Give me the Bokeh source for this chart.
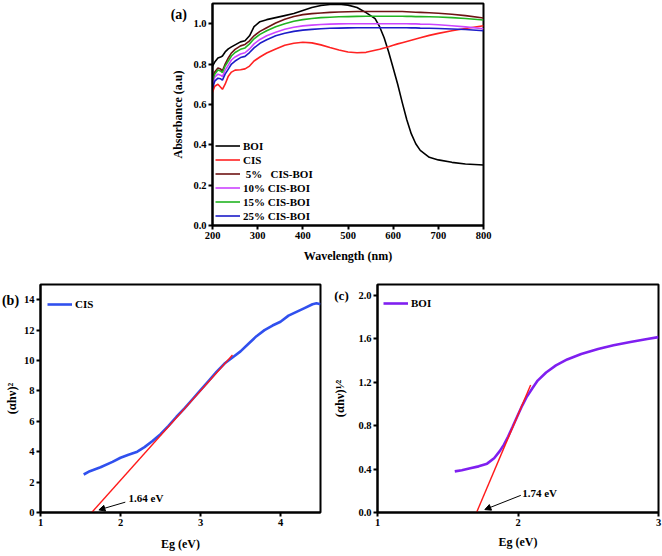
import math
from bokeh.plotting import figure
from bokeh.models import (FixedTicker, PrintfTickFormatter, Legend, LegendItem,
                          Label, Arrow, NormalHead, Spacer, Range1d)
from bokeh.layouts import column, row
from bokeh.embed import file_html
from bokeh.resources import INLINE

FONT = "Liberation Serif"

# ---------------- panel (a) data ----------------
wavelength = [200, 205, 212, 218, 222, 228, 235, 242, 250, 262, 272, 282, 292, 305, 320,
              340, 360, 380, 400, 420, 440, 460, 480, 500, 520, 540, 560, 570, 580, 590,
              600, 610, 620, 630, 640, 650, 660, 680, 700, 730, 760, 800]
abs_boi = [0.79, 0.81, 0.83, 0.835, 0.84, 0.86, 0.875, 0.885, 0.895, 0.91, 0.915, 0.94, 0.985,
           1.01, 1.02, 1.03, 1.04, 1.05, 1.065, 1.08, 1.09, 1.095, 1.096, 1.092, 1.08, 1.055,
           1.025, 0.985, 0.93, 0.86, 0.78, 0.70, 0.61, 0.525, 0.455, 0.405, 0.372, 0.338,
           0.325, 0.313, 0.305, 0.30]
abs_cis = [0.66, 0.69, 0.70, 0.685, 0.675, 0.70, 0.74, 0.76, 0.77, 0.772, 0.776, 0.79, 0.815,
           0.835, 0.855, 0.875, 0.893, 0.903, 0.908, 0.905, 0.895, 0.882, 0.87, 0.86, 0.856,
           0.858, 0.868, 0.873, 0.88, 0.886, 0.893, 0.90, 0.906, 0.912, 0.918, 0.924, 0.93,
           0.942, 0.952, 0.965, 0.976, 0.99]
abs_5 = [0.73, 0.76, 0.78, 0.775, 0.766, 0.80, 0.83, 0.855, 0.873, 0.89, 0.897, 0.915, 0.94,
         0.962, 0.98, 1.003, 1.022, 1.036, 1.045, 1.05, 1.053, 1.056, 1.058, 1.059, 1.06,
         1.06, 1.06, 1.06, 1.06, 1.06, 1.06, 1.06, 1.06, 1.059, 1.058, 1.057, 1.056, 1.054,
         1.052, 1.047, 1.04, 1.028]
abs_10 = [0.70, 0.735, 0.75, 0.745, 0.738, 0.77, 0.795, 0.82, 0.835, 0.85, 0.856, 0.875, 0.90,
          0.922, 0.94, 0.958, 0.972, 0.982, 0.989, 0.993, 0.996, 0.998, 0.999, 1.0, 1.0, 1.0,
          1.0, 1.0, 1.0, 1.0, 1.0, 1.0, 1.0, 1.0, 0.999, 0.999, 0.998, 0.997, 0.995, 0.99,
          0.984, 0.975]
abs_15 = [0.72, 0.75, 0.77, 0.765, 0.758, 0.79, 0.815, 0.84, 0.857, 0.873, 0.88, 0.90, 0.925,
          0.947, 0.965, 0.985, 1.0, 1.012, 1.02, 1.026, 1.03, 1.032, 1.034, 1.035, 1.036,
          1.037, 1.037, 1.037, 1.037, 1.037, 1.037, 1.037, 1.037, 1.036, 1.036, 1.035, 1.035,
          1.034, 1.033, 1.03, 1.026, 1.018]
abs_25 = [0.68, 0.715, 0.73, 0.727, 0.72, 0.75, 0.775, 0.80, 0.815, 0.832, 0.838, 0.857, 0.88,
          0.903, 0.92, 0.94, 0.953, 0.962, 0.968, 0.972, 0.975, 0.977, 0.978, 0.979, 0.98,
          0.98, 0.98, 0.98, 0.98, 0.98, 0.98, 0.98, 0.98, 0.98, 0.979, 0.979, 0.978, 0.977,
          0.976, 0.974, 0.971, 0.965]
series_names = ["BOI", "CIS", "\u00a05%\u00a0\u00a0 CIS-BOI", "10% CIS-BOI", "15% CIS-BOI", "25% CIS-BOI"]
series_colors = ["#000000", "#FF2222", "#6E1414", "#CC44FF", "#22B422", "#1C1CC8"]
a_xticks = [200, 300, 400, 500, 600, 700, 800]
a_yticks = [0.0, 0.2, 0.4, 0.6, 0.8, 1.0]

# ---------------- panel (b) data ----------------
eg_cis = [1.54, 1.6, 1.75, 1.9, 2.0, 2.1, 2.21, 2.3, 2.4, 2.5, 2.6, 2.7, 2.8, 2.9, 3.0, 3.1,
          3.2, 3.3, 3.4, 3.5, 3.6, 3.7, 3.8, 3.9, 4.0, 4.1, 4.2, 4.3, 4.4, 4.45, 4.5]
ahv2_cis = [2.5, 2.68, 2.98, 3.33, 3.6, 3.8, 4.0, 4.3, 4.7, 5.15, 5.7, 6.3, 6.85, 7.45, 8.05,
            8.65, 9.25, 9.8, 10.2, 10.6, 11.1, 11.6, 12.0, 12.3, 12.55, 12.95, 13.2, 13.45,
            13.7, 13.76, 13.7]
fit_cis_x = [1.64, 3.40]
fit_cis_y = [0.0, 10.36]
b_xticks = [1, 2, 3, 4]
b_yticks = [0, 2, 4, 6, 8, 10, 12, 14]

# ---------------- panel (c) data ----------------
eg_boi = [1.55, 1.6, 1.66, 1.72, 1.78, 1.83, 1.87, 1.9, 1.93, 1.96, 2.0, 2.03, 2.06, 2.1,
          2.14, 2.2, 2.27, 2.35, 2.45, 2.57, 2.68, 2.8, 2.92, 3.0]
ahv12_boi = [0.379, 0.39, 0.408, 0.425, 0.45, 0.50, 0.565, 0.625, 0.70, 0.785, 0.90, 0.985,
             1.06, 1.14, 1.215, 1.29, 1.355, 1.41, 1.46, 1.505, 1.54, 1.57, 1.598, 1.615]
fit_boi_x = [1.705, 2.09]
fit_boi_y = [0.0, 1.175]
c_xticks = [1, 2, 3]
c_yticks = [0.0, 0.4, 0.8, 1.2, 1.6, 2.0]


def style(p, xticks, yticks, xfmt, yfmt):
    p.outline_line_color = "black"
    p.outline_line_width = 2
    p.outline_line_alpha = 1.0
    p.xgrid.visible = False
    p.ygrid.visible = False
    p.background_fill_color = "white"
    p.border_fill_color = "white"
    p.xaxis.ticker = FixedTicker(ticks=xticks)
    p.yaxis.ticker = FixedTicker(ticks=yticks)
    p.xaxis.formatter = PrintfTickFormatter(format=xfmt)
    p.yaxis.formatter = PrintfTickFormatter(format=yfmt)
    for ax in (p.xaxis[0], p.yaxis[0]):
        ax.axis_line_width = 2
        ax.major_tick_line_width = 2
        ax.major_tick_out = 4
        ax.major_tick_in = 0
        ax.minor_tick_out = 0
        ax.minor_tick_in = 0
        ax.major_label_text_font = FONT
        ax.major_label_text_font_style = "bold"
        ax.major_label_text_font_size = "10.5px"
        ax.major_label_text_color = "black"
        ax.major_label_standoff = 2
        ax.axis_label_text_font = FONT
        ax.axis_label_text_font_style = "bold"
        ax.axis_label_text_font_size = "12px"
        ax.axis_label_text_color = "black"


def data_label(p, x, y, text, size="11px", align="left"):
    p.add_layout(Label(x=x, y=y, text=text, text_font=FONT,
                       text_font_style="bold", text_font_size=size, text_color="black",
                       text_align=align, text_baseline="middle"))


def side_label(p, side, sx, sy, text, size="14px"):
    # placed in a side panel (not clipped); sx, sy relative to that panel
    p.add_layout(Label(x=sx, y=sy, x_units="screen", y_units="screen", text=text,
                       text_font=FONT, text_font_style="bold", text_font_size=size,
                       text_color="black", text_align="center", text_baseline="middle"),
                 side)


def make_legend(p, items, loc, spacing=1, height=13):
    leg = Legend(items=items, location=loc, padding=0, margin=0, spacing=spacing,
                 glyph_width=25, glyph_height=height, label_height=height,
                 label_standoff=3, label_text_font=FONT, label_text_font_style="bold",
                 label_text_font_size="11px", label_text_color="black",
                 background_fill_alpha=0, border_line_alpha=0)
    p.add_layout(leg)


# ---------------- panel (a) ----------------
pa = figure(width=350, height=267, x_range=Range1d(200, 800), y_range=Range1d(0, 1.1),
            output_backend="svg", toolbar_location=None,
            min_border_left=62, min_border_right=17, min_border_top=3, min_border_bottom=42)
style(pa, a_xticks, a_yticks, "%d", "%.1f")
pa.xaxis.axis_label = "Wavelength (nm)"
pa.yaxis.axis_label = "Absorbance (a.u)"
pa.xaxis.axis_label_standoff = 7
pa.yaxis.axis_label_standoff = 5
items = []
for name, col, ys in zip(series_names, series_colors,
                         [abs_boi, abs_cis, abs_5, abs_10, abs_15, abs_25]):
    r = pa.line(wavelength, ys, line_color=col, line_width=1.6)
    items.append(LegendItem(label=name, renderers=[r]))
make_legend(pa, items, (3, 3), spacing=1, height=13)
side_label(pa, "right", -304.7, 211, "(a)", size="14px")

# ---------------- panel (b) ----------------
pb = figure(width=330, height=289, x_range=Range1d(1, 4.5), y_range=Range1d(0, 15),
            output_backend="svg", toolbar_location=None,
            min_border_left=40, min_border_right=10, min_border_top=17, min_border_bottom=42)
style(pb, b_xticks, b_yticks, "%d", "%d")
pb.xaxis.axis_label = "Eg (eV)"
pb.xaxis.axis_label_standoff = 8
pb.yaxis.axis_label = "(\u03b1h\u03bd)\u00b2"
pb.yaxis.axis_label_standoff = 2
pb.yaxis.axis_label_text_font_size = "12.5px"
rb = pb.line(eg_cis, ahv2_cis, line_color="#3050EE", line_width=2.6)
pb.line(fit_cis_x, fit_cis_y, line_color="#FF1A1A", line_width=1.4)
make_legend(pb, [LegendItem(label="CIS", renderers=[rb])], (7, 201), height=14)
side_label(pb, "above", -30, -16.4, "(b)", size="14px")
data_label(pb, 2.1, 0.95, "1.64 eV")
pb.add_layout(Arrow(end=NormalHead(size=6, fill_color="black", line_color="black"),
                    x_start=2.06, y_start=0.68, x_end=1.73, y_end=0.17,
                    line_color="black", line_width=1))

# ---------------- panel (c) ----------------
pc = figure(width=332, height=289, x_range=Range1d(1, 3), y_range=Range1d(0, 2.1),
            output_backend="svg", toolbar_location=None,
            min_border_left=47, min_border_right=4, min_border_top=12, min_border_bottom=44)
style(pc, c_xticks, c_yticks, "%d", "%.1f")
pc.xaxis.axis_label = "Eg (eV)"
pc.xaxis.axis_label_standoff = 6
pc.yaxis.axis_label = "(\u03b1h\u03bd)\u00b9\u2044\u00b2"
pc.yaxis.axis_label_standoff = 8
pc.yaxis.axis_label_text_font_size = "12.5px"
rc = pc.line(eg_boi, ahv12_boi, line_color="#7F1FF0", line_width=2.6)
pc.line(fit_boi_x, fit_boi_y, line_color="#FF1A1A", line_width=1.4)
make_legend(pc, [LegendItem(label="BOI", renderers=[rc])], (6, 202), height=14)
side_label(pc, "above", -36, -10.7, "(c)", size="13px")
data_label(pc, 2.03, 0.18, "1.74 eV")
pc.add_layout(Arrow(end=NormalHead(size=6, fill_color="black", line_color="black"),
                    x_start=2.02, y_start=0.158, x_end=1.764, y_end=0.027,
                    line_color="black", line_width=1))

layout = column(row(Spacer(width=150, height=267), pa), row(pb, pc))
open("out.html", "w").write(file_html(layout, INLINE))
